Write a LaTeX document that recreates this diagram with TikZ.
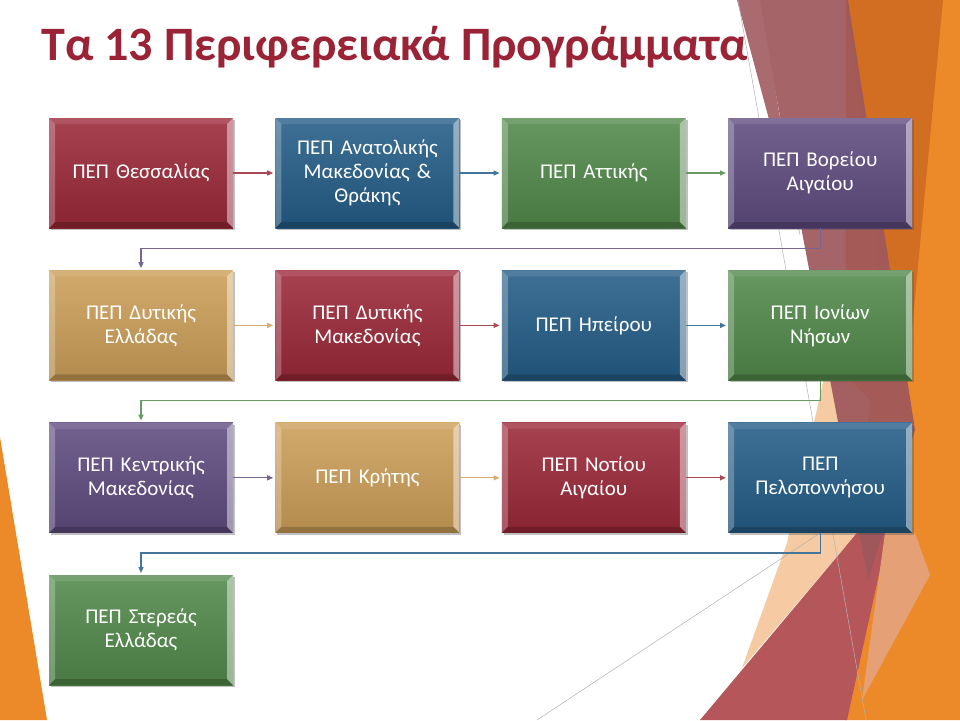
\documentclass[tikz,border=0pt]{standalone}
\usepackage{fontspec}
\setmainfont{Carlito}
\usetikzlibrary{positioning}
\usetikzlibrary{shadows}
\usetikzlibrary{arrows.meta}

\definecolor{titlered}{HTML}{9B2336}
\definecolor{pepred}{HTML}{9B2838}
\definecolor{pepblue}{HTML}{245D88}
\definecolor{pepgreen}{HTML}{51894A}
\definecolor{peppurple}{HTML}{5F4B80}
\definecolor{pepgold}{HTML}{CC9E58}
\definecolor{facetorange}{HTML}{EC8A2A}
\definecolor{facetdark}{HTML}{D26E22}
\definecolor{facetmauve}{HTML}{9E585C}
\definecolor{facetpink}{HTML}{A96A70}
\definecolor{facetpeach}{HTML}{F6CAA2}
\definecolor{facetred}{HTML}{B5565A}
\definecolor{facetlight}{HTML}{E6A076}

\tikzset{
  pep/.style={minimum width=184pt, minimum height=110pt, text width=172pt,
    align=center, text=white, font=\fontsize{21}{24}\selectfont,
    top color=#1!88!white, bottom color=#1!88!black,
    drop shadow={shadow xshift=2pt, shadow yshift=-2pt, opacity=.35, fill=black!70},
    path picture={
      \path (path picture bounding box.north west) coordinate (bnw)
            (path picture bounding box.north east) coordinate (bne)
            (path picture bounding box.south east) coordinate (bse)
            (path picture bounding box.south west) coordinate (bsw);
      \fill[white, opacity=.25] (bnw) -- (bsw) -- ([shift={(6,6)}]bsw) -- ([shift={(6,-6)}]bnw) -- cycle;
      \fill[white, opacity=.45] (bne) -- (bse) -- ([shift={(-6,6)}]bse) -- ([shift={(-6,-6)}]bne) -- cycle;
      \fill[white, opacity=.1] (bnw) -- (bne) -- ([shift={(-6,-6)}]bne) -- ([shift={(6,-6)}]bnw) -- cycle;
      \fill[black, opacity=.18] (bsw) -- (bse) -- ([shift={(-6,6)}]bse) -- ([shift={(6,6)}]bsw) -- cycle;
    }},
  link/.style={draw=#1!85!white, line width=1.3pt, shorten >=2pt,
    -{Triangle[length=6pt, width=5pt]}}
}

\begin{document}
\begin{tikzpicture}[x=1pt, y=1pt]
  \useasboundingbox (0,0) rectangle (960,-720);
  \fill[white] (0,0) rectangle (960,-720);

  % facets
  \fill[facetorange] (0,-437) -- (47,-720) -- (0,-720) -- cycle;
  \fill[facetorange] (846,0) -- (960,0) -- (960,-720) -- (845,-720) -- cycle;
  \fill[facetdark] (846,0) -- (943,0) -- (912,-330) -- (885,-330) -- cycle;
  \fill[facetpeach] (828,-360) -- (870,-400) -- (857,-533) -- (742,-668) -- (787,-543) -- cycle;
  \fill[facetred] (857,-533) -- (888,-533) -- (847,-720) -- (700,-720) -- cycle;
  \fill[facetlight] (885,-533) -- (915,-533) -- (930,-575) -- (862,-700) -- cycle;
  \fill[facetmauve, opacity=.92] (758,0) -- (848,0) -- (915,-430) -- (868,-580) -- cycle;
  \fill[facetpink] (737,0) -- (760,0) -- (800,-235) -- cycle;
  \draw[black!30, line width=.5pt] (738,0) -- (866,-720);
  \draw[black!30, line width=.5pt] (537,-720) -- (820,-533);

  \node[anchor=base west, text=titlered, font=\fontsize{48}{56}\selectfont\bfseries]
    (title) at (38,-60) {Τα 13 Περιφερειακά Προγράμματα};

  \begin{scope}[node distance=42pt]
    \node[pep=pepred] (thes) at (141,-173)     {ΠΕΠ Θεσσαλίας};
    \node[pep=pepblue, right=of thes] (amth)   {ΠΕΠ Ανατολικής\\Μακεδονίας \&\\Θράκης};
    \node[pep=pepgreen, right=of amth] (att)   {ΠΕΠ Αττικής};
    \node[pep=peppurple, right=of att] (vai)   {ΠΕΠ Βορείου\\Αιγαίου};

    \node[pep=pepgold, below=of thes] (de)     {ΠΕΠ Δυτικής\\Ελλάδας};
    \node[pep=pepred, right=of de] (dm)        {ΠΕΠ Δυτικής\\Μακεδονίας};
    \node[pep=pepblue, right=of dm] (ip)       {ΠΕΠ Ηπείρου};
    \node[pep=pepgreen, right=of ip] (ion)     {ΠΕΠ Ιονίων\\Νήσων};

    \node[pep=peppurple, below=of de] (km)     {ΠΕΠ Κεντρικής\\Μακεδονίας};
    \node[pep=pepgold, right=of km] (kr)       {ΠΕΠ Κρήτης};
    \node[pep=pepred, right=of kr] (nai)       {ΠΕΠ Νοτίου\\Αιγαίου};
    \node[pep=pepblue, right=of nai] (pel)     {ΠΕΠ\\Πελοποννήσου};

    \node[pep=pepgreen, below=of km] (ste)     {ΠΕΠ Στερεάς\\Ελλάδας};
  \end{scope}

  \foreach \a/\b/\c in {thes/amth/pepred, amth/att/pepblue, att/vai/pepgreen,
                        de/dm/pepgold, dm/ip/pepred, ip/ion/pepblue,
                        km/kr/peppurple, kr/nai/pepgold, nai/pel/pepred}
    \draw[link=\c] (\a) -- (\b);

  \draw[link=peppurple] (vai.south) -- ++(0,-20) -| (de.north);
  \draw[link=pepgreen] (ion.south) -- ++(0,-20) -| (km.north);
  \draw[link=pepblue] (pel.south) -- ++(0,-20) -| (ste.north);
\end{tikzpicture}
\end{document}
